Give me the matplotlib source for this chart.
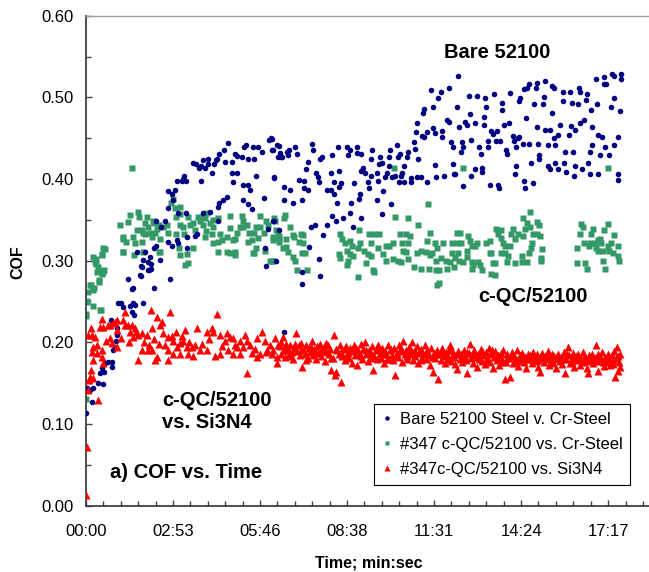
import matplotlib
matplotlib.use("Agg")
import matplotlib.pyplot as plt
from matplotlib.ticker import MultipleLocator, FixedLocator, FuncFormatter

plt.rcParams['font.family'] = ['Liberation Sans', 'DejaVu Sans']

# (time in seconds, COF)
BARE = [
(0,.113),(2,.144),(8,.141),(14,.144),(12,.127),(24,.150),(34,.149),(28,.162),(36,.163),(32,.168),
(38,.174),(44,.176),(52,.176),(52,.170),(54,.190),(58,.194),(60,.202),(62,.209),(62,.217),(50,.227),
(64,.248),(70,.248),(74,.243),(88,.244),(94,.248),(97,.246),(113,.248),(91,.237),(95,.233),(93,.266),
(107,.282),(111,.292),(125,.289),(129,.296),(123,.298),(127,.304),(167,.278),(113,.301),(83,.277),(91,.265),
(109,.281),(109,.293),(123,.288),(129,.290),(135,.267),(101,.311),(117,.311),(139,.318),(135,.315),(147,.301),
(163,.323),(171,.318),(181,.325),(183,.321),(201,.315),(216,.330),(139,.349),(157,.349),(183,.358),(199,.358),
(232,.358),(246,.359),(262,.348),(264,.371),(272,.374),(280,.378),(262,.366),(163,.364),(163,.385),(171,.381),
(177,.387),(173,.374),(181,.398),(193,.400),(191,.397),(199,.397),(228,.397),(195,.404),(212,.419),(218,.418),
(228,.416),(224,.413),(232,.423),(242,.424),(242,.418),(236,.413),(254,.418),(260,.425),(258,.423),(250,.407),
(264,.431),(274,.435),(282,.444),(276,.421),(290,.421),(290,.407),(300,.407),(296,.431),(300,.428),(310,.427),
(314,.439),(318,.441),(332,.439),(342,.439),(349,.433),(322,.424),(334,.424),(338,.404),(292,.396),(312,.393),
(322,.392),(326,.387),(353,.377),(312,.374),(322,.369),(330,.363),(371,.348),(355,.315),(357,.293),(367,.450),
(363,.448),(369,.435),(379,.441),(381,.427),(373,.401),(361,.339),(383,.338),(201,.329),(220,.333),(149,.341),
(369,.449),(371,.436),(383,.440),(385,.432),(387,.427),(389,.427),(399,.433),(403,.436),(401,.429),(415,.439),
(419,.430),(449,.443),(451,.435),(465,.425),(469,.427),(488,.429),(500,.439),(518,.439),(520,.429),(524,.435),
(538,.439),(538,.432),(546,.431),(568,.436),(566,.425),(584,.427),(588,.420),(601,.427),(604,.435),(619,.427),
(624,.430),(618,.441),(637,.427),(639,.433),(653,.437),(651,.445),(659,.425),(657,.469),(655,.457),(667,.453),
(671,.451),(677,.457),(689,.462),(693,.456),(707,.459),(707,.451),(717,.472),(721,.470),(725,.445),(729,.439),
(741,.464),(669,.481),(671,.486),(689,.488),(685,.509),(705,.507),(721,.511),(699,.499),(739,.526),(737,.488),
(373,.402),(393,.390),(405,.386),(393,.374),(411,.371),(429,.374),(433,.389),(441,.387),(437,.412),(441,.421),
(423,.399),(433,.397),(457,.407),(461,.402),(463,.396),(479,.387),(486,.386),(486,.407),(492,.396),(502,.410),
(506,.395),(502,.390),(492,.381),(498,.371),(526,.370),(524,.358),(532,.395),(544,.382),(542,.376),(546,.410),
(550,.413),(554,.407),(560,.396),(562,.389),(566,.404),(578,.407),(580,.398),(582,.418),(598,.407),(594,.402),
(602,.416),(590,.385),(578,.374),(606,.369),(608,.402),(614,.404),(622,.396),(628,.407),(626,.404),(632,.396),
(632,.416),(645,.401),(645,.396),(657,.402),(665,.403),(677,.396),(693,.417),(695,.403),(711,.404),(729,.418),
(731,.406),(588,.357),(546,.352),(530,.341),(510,.352),(496,.348),(488,.355),(478,.344),(470,.331),(455,.343),
(447,.341),(443,.317),(463,.302),(465,.281),(429,.286),(429,.271),(377,.300),(373,.349),(393,.213),
(761,.502),(777,.502),(792,.499),(810,.504),(842,.505),(860,.496),(862,.499),(876,.512),(880,.516),(896,.517),
(894,.511),(870,.510),(911,.520),(925,.514),(929,.511),(909,.501),(907,.492),(889,.492),(947,.506),(961,.506),
(965,.493),(977,.492),(947,.495),(979,.511),(981,.507),(995,.504),(993,.497),(1015,.492),(1013,.523),(1029,.525),
(1029,.516),(1033,.516),(1045,.529),(1049,.526),(1063,.529),(1063,.522),(1049,.499),(1043,.488),(1061,.483),(1003,.485),
(747,.445),(745,.433),(763,.479),(753,.470),(757,.466),(773,.469),(790,.476),(794,.488),(790,.466),
(804,.459),(808,.455),(816,.459),(814,.447),(822,.447),(798,.446),(798,.439),(780,.439),(784,.430),(765,.448),
(749,.439),(826,.484),(826,.493),(830,.466),(840,.469),(850,.447),(848,.453),(858,.450),(860,.451),(834,.436),
(836,.431),(854,.439),(868,.443),(874,.475),(880,.443),(898,.443),(896,.464),(900,.429),(900,.425),(911,.460),
(921,.460),(925,.481),(917,.442),(931,.442),(929,.450),(937,.454),(941,.466),(959,.454),(963,.465),(971,.460),
(981,.468),(989,.472),(1005,.464),(1017,.454),(1025,.451),(1005,.441),(1001,.433),(1031,.439),(1049,.442),(1057,.451),
(1039,.429),(1021,.429),(951,.433),(967,.433),(931,.420),(917,.416),(921,.412),(937,.412),(949,.420),(953,.409),
(971,.416),(969,.404),(985,.412),(997,.420),(1001,.406),(1017,.406),(1057,.406),(1057,.399),(884,.420),(888,.395),
(870,.397),(872,.389),(854,.416),(852,.406),(818,.392),(820,.389),(802,.393),(786,.414),(786,.408),(772,.412),
(765,.404),(749,.391),(733,.406),
]

QC_STEEL = [
(0,.131),(0,.235),(2,.250),(14,.244),(30,.239),(4,.261),(10,.270),(16,.267),(26,.274),(2,.249),
(0,.232),(28,.240),(8,.270),(14,.264),(26,.276),(22,.286),(34,.286),(24,.292),(18,.298),(14,.304),
(32,.307),(20,.302),(20,.296),(28,.287),(36,.288),(32,.283),(32,.308),(34,.316),(38,.314),(68,.344),
(74,.329),(74,.326),(74,.310),(79,.323),(83,.347),(87,.356),(91,.413),(93,.329),(97,.321),(95,.307),
(101,.337),(103,.359),(105,.353),(111,.337),(113,.334),(117,.346),(121,.353),(111,.323),(113,.310),(117,.332),
(123,.341),(127,.334),(131,.329),(133,.349),(135,.346),(137,.334),(141,.339),(145,.343),(147,.326),(145,.310),
(153,.341),(161,.343),(163,.334),(169,.371),(173,.376),(177,.364),(187,.366),(187,.357),(179,.353),(187,.343),
(185,.316),(179,.333),(193,.341),(195,.333),(201,.308),(197,.295),(203,.353),(207,.343),(212,.346),(216,.338),
(212,.316),(222,.353),(226,.348),(230,.353),(236,.352),(240,.358),(232,.343),(238,.336),(236,.329),(246,.346),
(252,.350),(252,.341),(250,.333),(252,.321),(262,.352),(266,.333),(262,.323),(270,.325),(280,.329),(286,.340),
(286,.355),(292,.325),(296,.327),(300,.334),(306,.341),(310,.355),(312,.349),(312,.341),(320,.343),(324,.334),
(322,.323),(330,.325),(334,.334),(338,.341),(342,.328),(346,.341),(346,.355),(353,.334),(357,.349),(361,.343),
(371,.325),(375,.349),(383,.330),(383,.323),(334,.309),(338,.315),(286,.309),(296,.310),(262,.310),(355,.312),
(365,.300),(369,.300),(147,.310),(202,.297),(186,.307),(73,.310),(280,.310),(296,.307),(332,.309),
(373,.352),(393,.352),(395,.356),(405,.341),(377,.337),(381,.331),(371,.329),(383,.326),(397,.326),(397,.317),
(391,.315),(371,.300),(401,.311),(411,.331),(413,.329),(427,.333),(431,.331),(411,.304),(415,.300),(419,.288),
(439,.288),(431,.321),(423,.323),(429,.309),(435,.309),(504,.333),(508,.327),(514,.321),(524,.324),(528,.318),
(518,.312),(524,.308),(530,.306),(540,.316),(544,.322),(542,.337),(552,.312),(560,.308),(562,.333),(566,.322),
(572,.333),(582,.333),(502,.308),(504,.303),(520,.300),(518,.294),(540,.280),(556,.297),(566,.306),(570,.288),
(572,.286),(580,.316),(590,.308),(596,.300),(596,.318),(602,.318),(610,.321),(612,.413),(624,.333),(628,.322),
(614,.353),(639,.352),(635,.333),(643,.330),(639,.322),(610,.302),(620,.300),(626,.298),(630,.312),(635,.311),
(639,.302),(657,.309),(659,.344),(679,.369),(683,.334),(677,.324),(693,.321),(697,.316),(709,.322),(727,.321),
(665,.312),(675,.310),(683,.307),(687,.309),(695,.300),(705,.303),(715,.300),(723,.298),(727,.309),(733,.303),
(737,.334),(737,.322),(741,.300),(651,.292),(665,.290),(681,.290),(695,.289),(701,.289),(717,.290),(731,.292),
(697,.270),(701,.272),
(749,.413),(1037,.413),(743,.334),(745,.322),(759,.330),(763,.324),(767,.318),(773,.318),(777,.321),(757,.312),
(739,.309),(757,.304),(749,.298),(767,.298),(769,.294),(778,.298),(782,.294),(786,.288),(767,.290),(794,.322),
(802,.324),(802,.309),(804,.309),(808,.297),(812,.297),(804,.283),(812,.282),(814,.339),(818,.333),(824,.328),
(828,.322),(832,.318),(824,.309),(832,.309),(838,.306),(842,.318),(824,.337),(848,.339),(844,.333),(858,.333),
(852,.327),(868,.330),(872,.339),(868,.352),(882,.359),(876,.346),(882,.341),(888,.333),(896,.347),(900,.344),
(896,.333),(902,.330),(886,.321),(884,.316),(906,.314),(904,.303),(866,.306),(880,.309),(852,.297),(836,.298),
(866,.298),(876,.298),(904,.300),(983,.345),(987,.341),(1007,.339),(981,.333),(1003,.333),(989,.322),(1001,.322),
(1011,.321),(1017,.325),(1021,.327),(1023,.321),(1013,.316),(1017,.312),(1027,.312),(1037,.345),(1029,.337),(1049,.331),
(1043,.321),(1057,.318),(1037,.318),(1039,.312),(1047,.309),(1057,.306),(1059,.300),(975,.316),(975,.297),(991,.297),
(995,.290),(1027,.300),(1031,.290),(999,.318),
]

QC_SI3N4 = [
(0,.013),(2,.072),(4,.141),(6,.154),(8,.158),(10,.166),(14,.156),(24,.129),(4,.209),(10,.217),
(12,.209),(18,.206),(14,.194),(12,.188),(22,.187),(22,.197),(32,.190),(14,.178),(32,.182),(34,.174),
(28,.219),(32,.229),(34,.219),(44,.221),(48,.221),(54,.223),(58,.225),(62,.227),(62,.215),(73,.227),
(77,.237),(77,.221),(83,.221),(91,.221),(97,.217),(87,.212),(93,.206),(103,.209),(111,.211),(121,.209),
(131,.217),(129,.239),(141,.231),(151,.225),(147,.221),(153,.211),(167,.237),(163,.206),(173,.202),(181,.194),
(187,.199),(193,.202),(201,.194),(211,.194),(216,.197),(197,.215),(220,.217),(240,.212),(250,.218),(260,.234),
(252,.212),(266,.209),(280,.211),(286,.206),(276,.202),(292,.205),(306,.202),(312,.194),(300,.194),(320,.202),
(326,.197),(340,.205),(350,.212),(355,.202),(365,.197),(371,.190),(381,.197),
(40,.202),(48,.205),(52,.199),(62,.194),(103,.178),(137,.178),(163,.178),(111,.190),(123,.190),(131,.190),
(141,.182),(163,.190),(173,.186),(187,.186),(203,.186),(213,.183),(226,.190),(240,.190),(256,.183),(266,.186),
(282,.190),(292,.186),(306,.186),(320,.162),(330,.187),(340,.182),(346,.186),(360,.190),(369,.186),(379,.182),
(379,.174),(70,.205),(85,.200),(100,.213),(115,.200),(125,.197),(135,.204),(145,.198),(157,.196),(170,.208),
(178,.213),(190,.208),(205,.200),(230,.198),(245,.204),(270,.195),(296,.197),(315,.209),(335,.192),(358,.188),
(375,.205),
(386,.195),(388,.186),(391,.206),(393,.190),(396,.182),(398,.198),(401,.192),(403,.185),(406,.196),(409,.188),
(411,.180),(414,.193),(417,.211),(419,.189),(422,.196),(425,.184),(427,.199),(429,.170),(432,.191),(435,.186),
(437,.197),(440,.181),(443,.193),(445,.188),(448,.201),(451,.184),(453,.192),(456,.179),(459,.195),(461,.187),
(464,.198),(467,.183),(469,.190),(472,.194),(475,.177),(477,.188),(480,.196),(483,.185),(485,.192),(487,.166),
(490,.181),(492,.209),(494,.160),(497,.163),(499,.190),(502,.186),(504,.197),(506,.151),(509,.183),(512,.192),
(514,.178),(517,.195),(520,.187),(522,.181),(525,.193),(528,.175),(530,.189),(533,.196),(535,.184),(538,.172),
(541,.190),(543,.186),(546,.198),(549,.180),(551,.192),(554,.200),(557,.185),(559,.177),(562,.191),(565,.187),
(567,.195),(570,.166),(572,.183),(575,.190),(578,.179),(580,.196),(583,.187),(586,.181),(588,.193),(591,.175),
(594,.189),(596,.185),(599,.197),(602,.180),(604,.191),(607,.184),(610,.178),(612,.193),(614,.160),(617,.187),
(620,.182),(622,.196),(625,.189),(628,.176),(630,.202),(633,.185),(636,.191),(638,.180),(641,.194),(644,.186),
(647,.200),(649,.178),(652,.189),(654,.183),(657,.195),(660,.174),(662,.188),(665,.192),(668,.181),(670,.186),
(673,.196),(676,.179),(678,.190),(681,.184),(684,.172),(686,.193),(689,.164),(691,.187),(694,.181),(697,.191),
(699,.155),(702,.185),(704,.178),(707,.193),(710,.183),(712,.174),(715,.188),(718,.180),(720,.191),(723,.196),
(725,.177),(728,.186),(731,.182),(733,.173),(737,.167),(739,.189),(742,.180),(744,.185),(747,.176),(750,.190),
(752,.183),(755,.178),(757,.162),(760,.187),(763,.198),(765,.181),(768,.175),(771,.190),(773,.184),(776,.170),
(779,.186),(781,.180),(784,.192),(786,.177),(789,.184),(792,.173),(794,.188),(797,.181),(800,.193),(802,.176),
(805,.185),(808,.168),(810,.182),(813,.189),(816,.178),(818,.184),(821,.172),(824,.187),(826,.180),(829,.191),
(832,.155),(834,.176),(837,.185),(840,.181),(842,.158),(845,.188),(847,.174),(850,.183),(853,.179),(855,.190),
(858,.171),(861,.184),(863,.180),(866,.187),(869,.176),(871,.182),(874,.168),(877,.186),(879,.179),(882,.184),
(885,.174),(888,.188),(890,.181),(893,.177),(895,.185),(898,.170),(901,.182),(902,.163),(906,.187),(909,.176),
(911,.183),(914,.179),(917,.189),(919,.172),(922,.181),(925,.185),(927,.175),(930,.183),(933,.168),(935,.180),
(938,.186),(941,.177),(943,.182),(946,.173),(949,.188),(951,.162),(954,.179),(957,.194),(959,.184),(962,.175),
(965,.181),(967,.187),(970,.170),(973,.183),(975,.178),(978,.185),(981,.172),(983,.180),(986,.188),(989,.176),
(991,.182),(994,.169),(997,.162),(999,.184),(1002,.178),(1005,.186),(1007,.174),(1010,.181),(1013,.196),(1015,.177),
(1017,.165),(1020,.183),(1023,.179),(1025,.188),(1028,.171),(1031,.182),(1033,.176),(1036,.186),(1039,.180),(1041,.172),
(1044,.184),(1047,.178),(1049,.189),(1051,.158),(1053,.181),(1055,.194),(1057,.165),(1059,.176),(1061,.185),(1061,.170),
(387,.200),(397,.191),(407,.183),(416,.198),(426,.190),(436,.178),(446,.194),(455,.189),(466,.191),(476,.199),
(486,.181),(496,.192),(507,.188),(516,.183),(527,.190),(537,.193),(547,.183),(556,.190),(566,.181),(577,.194),
(587,.186),(597,.179),(606,.192),(616,.184),(626,.193),(637,.183),(646,.191),(656,.187),(666,.178),(677,.187),
(687,.182),(696,.186),(706,.189),(716,.184),(727,.191),(736,.186),(746,.181),(756,.188),(766,.186),(777,.182),
(787,.189),(796,.178),(806,.190),(817,.182),(827,.176),(836,.181),(846,.184),(857,.177),(867,.181),(876,.179),
(886,.183),(897,.178),(907,.181),(916,.184),(926,.178),(936,.183),(947,.180),(956,.185),(966,.176),(976,.182),
(987,.179),(996,.177),(1006,.182),(1016,.186),(1026,.176),(1037,.181),(1046,.173),(1056,.183),
]

SERIES_LABELS = ["Bare 52100 Steel v. Cr-Steel",
                 "#347 c-QC/52100 vs. Cr-Steel",
                 "#347c-QC/52100 vs. Si3N4"]
XTICKS_S = [0, 172.8, 345.6, 518.4, 691.2, 864.0, 1036.8]

W, H = 649, 572
fig = plt.figure(figsize=(W / 100, H / 100), dpi=100)
L, R, T, B = 86, 649, 15.7, 505.5
ax = fig.add_axes([L / W, 1 - B / H, (R - L) / W, (B - T) / H])

def split(pairs):
    return [p[0] for p in pairs], [p[1] for p in pairs]

bt, bc = split(BARE)
gt, gc = split(QC_STEEL)
rt, rc = split(QC_SI3N4)

ax.plot(bt, bc, 'o', ls='none', color='#000080', ms=4.0, mec='none', label=SERIES_LABELS[0], zorder=3)
ax.plot(gt, gc, 's', ls='none', color='#339966', ms=4.1, mec='none', label=SERIES_LABELS[1], zorder=2)
ax.plot(rt, rc, '^', ls='none', color='#ff0000', ms=5.4, mec='none', label=SERIES_LABELS[2], zorder=4)

ax.set_xlim(0, 1118)
ax.set_ylim(0, 0.6)

ax.xaxis.set_major_locator(FixedLocator(XTICKS_S))
ax.xaxis.set_minor_locator(MultipleLocator(34.56))
def fmt(s, pos):
    s = int(round(s))
    return f"{s // 60:02d}:{s % 60:02d}"
ax.xaxis.set_major_formatter(FuncFormatter(fmt))
ax.yaxis.set_major_locator(MultipleLocator(0.1))
ax.yaxis.set_minor_locator(MultipleLocator(0.05))
ax.yaxis.set_major_formatter(FuncFormatter(lambda v, p: f"{v:.2f}"))

ax.spines['right'].set_visible(False)
ax.spines['top'].set_color('#a0a0a0')
ax.spines['top'].set_linewidth(1.0)
for s in ('left', 'bottom'):
    ax.spines[s].set_color('#404040')
    ax.spines[s].set_linewidth(1.3)

ax.tick_params(axis='both', which='both', direction='in', color='#404040', labelsize=12)
ax.tick_params(axis='both', which='major', length=4, width=1)
ax.tick_params(axis='both', which='minor', length=3.5, width=1)
ax.tick_params(axis='x', which='both', pad=13, top=False)
ax.tick_params(axis='y', which='both', pad=9, right=False)

fig.text(369 / W, 1 - 563 / H, "Time; min:sec", ha='center', va='center', fontsize=11.5, fontweight='bold')
fig.text(18 / W, 1 - 262 / H, "COF", ha='center', va='center', rotation=90, fontsize=11.5, fontweight='bold')

fig.text(497 / W, 1 - 52 / H, "Bare 52100", ha='center', va='center', fontsize=14.5, fontweight='bold')
fig.text(533 / W, 1 - 297 / H, "c-QC/52100", ha='center', va='center', fontsize=14.5, fontweight='bold')
fig.text(162 / W, 1 - 400 / H, "c-QC/52100", ha='left', va='center', fontsize=14.5, fontweight='bold')
fig.text(162 / W, 1 - 423 / H, "vs. Si3N4", ha='left', va='center', fontsize=14.5, fontweight='bold')
fig.text(110 / W, 1 - 473 / H, "a) COF vs. Time", ha='left', va='center', fontsize=14.5, fontweight='bold')

leg = ax.legend(loc='upper left', bbox_to_anchor=(374 / W, 1 - 404 / H), bbox_transform=fig.transFigure,
                fontsize=12, frameon=True, fancybox=False, edgecolor='black', framealpha=1,
                handlelength=0.6, handletextpad=0.5, borderpad=0.45, labelspacing=0.62,
                borderaxespad=0, markerscale=0.8)
leg.get_frame().set_linewidth(0.8)

fig.savefig("out.png", dpi=100)
